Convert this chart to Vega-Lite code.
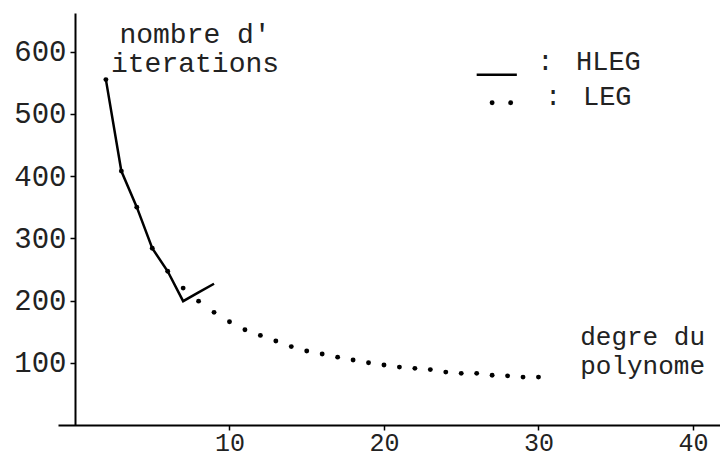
{
  "$schema": "https://vega.github.io/schema/vega-lite/v6.json",
  "width": 662,
  "height": 412,
  "autosize": {"type": "none"},
  "padding": {"left": 58, "top": 13, "right": 0, "bottom": 32},
  "background": "white",
  "config": {"view": {"stroke": null}, "font": "Liberation Mono"},
  "datasets": {
    "hleg": [
      {"degre": 2, "iterations": 555},
      {"degre": 3, "iterations": 408},
      {"degre": 4, "iterations": 350},
      {"degre": 5, "iterations": 284},
      {"degre": 6, "iterations": 247},
      {"degre": 7, "iterations": 199},
      {"degre": 8, "iterations": 213},
      {"degre": 9, "iterations": 227}
    ],
    "leg": [
      {"degre": 2, "iterations": 555},
      {"degre": 3, "iterations": 408},
      {"degre": 4, "iterations": 350},
      {"degre": 5, "iterations": 284},
      {"degre": 6, "iterations": 247},
      {"degre": 7, "iterations": 220},
      {"degre": 8, "iterations": 199},
      {"degre": 9, "iterations": 181},
      {"degre": 10, "iterations": 166},
      {"degre": 11, "iterations": 153},
      {"degre": 12, "iterations": 144},
      {"degre": 13, "iterations": 135},
      {"degre": 14, "iterations": 126},
      {"degre": 15, "iterations": 119},
      {"degre": 16, "iterations": 114},
      {"degre": 17, "iterations": 109},
      {"degre": 18, "iterations": 104.5},
      {"degre": 19, "iterations": 100},
      {"degre": 20, "iterations": 96.5},
      {"degre": 21, "iterations": 93},
      {"degre": 22, "iterations": 91},
      {"degre": 23, "iterations": 89},
      {"degre": 24, "iterations": 85},
      {"degre": 25, "iterations": 83},
      {"degre": 26, "iterations": 83},
      {"degre": 27, "iterations": 80},
      {"degre": 28, "iterations": 79},
      {"degre": 29, "iterations": 77},
      {"degre": 30, "iterations": 77}
    ],
    "key": [
      {"degre": 26.0, "iterations": 562.7, "kind": "line"},
      {"degre": 28.6, "iterations": 562.7, "kind": "line"},
      {"degre": 27.0, "iterations": 517.7, "kind": "dot"},
      {"degre": 28.2, "iterations": 517.7, "kind": "dot"}
    ],
    "notes": [
      {"text": "nombre d'\niterations", "degre": 7.77, "iterations": 614, "group": "title"},
      {"text": ":", "degre": 29.92, "iterations": 570.7, "group": "legend"},
      {"text": ":", "degre": 30.43, "iterations": 514.5, "group": "legend"},
      {"text": "HLEG", "degre": 32.43, "iterations": 570.7, "group": "legend"},
      {"text": "LEG", "degre": 32.88, "iterations": 514.5, "group": "legend"},
      {"text": "degre du\npolynome", "degre": 40.78, "iterations": 128, "group": "xlabel"}
    ]
  },
  "encoding": {
    "x": {
      "field": "degre", "type": "quantitative",
      "scale": {"domain": [-1.1, 41.75], "nice": false, "zero": false},
      "axis": {
        "values": [10, 20, 30, 40], "title": null, "grid": false,
        "domainColor": "black", "domainWidth": 2,
        "tickColor": "black", "tickWidth": 1.5, "tickSize": 5,
        "labelFont": "Liberation Mono", "labelFontSize": 25, "labelColor": "#222",
        "labelPadding": 0, "labelFlush": false
      }
    },
    "y": {
      "field": "iterations", "type": "quantitative",
      "scale": {"domain": [0, 662], "nice": false, "zero": false},
      "axis": {
        "values": [100, 200, 300, 400, 500, 600], "title": null, "grid": false,
        "offset": -17,
        "domainColor": "black", "domainWidth": 2,
        "tickColor": "black", "tickWidth": 1.5, "tickSize": 5,
        "labelFont": "Liberation Mono", "labelFontSize": 29, "labelColor": "#222",
        "labelPadding": 4
      }
    }
  },
  "layer": [
    {
      "data": {"name": "hleg"},
      "mark": {"type": "line", "color": "black", "strokeWidth": 2.5}
    },
    {
      "data": {"name": "leg"},
      "mark": {"type": "circle", "color": "black", "size": 24, "opacity": 1}
    },
    {
      "data": {"name": "key"},
      "transform": [{"filter": "datum.kind === 'line'"}],
      "mark": {"type": "line", "color": "black", "strokeWidth": 2.5}
    },
    {
      "data": {"name": "key"},
      "transform": [{"filter": "datum.kind === 'dot'"}],
      "mark": {"type": "circle", "color": "black", "size": 24, "opacity": 1}
    },
    {
      "data": {"name": "notes"},
      "transform": [{"filter": "datum.group === 'title'"}],
      "mark": {"type": "text", "align": "center", "baseline": "alphabetic", "lineBreak": "\n", "lineHeight": 29, "font": "Liberation Mono", "fontSize": 28, "color": "#222"},
      "encoding": {"text": {"field": "text"}}
    },
    {
      "data": {"name": "notes"},
      "transform": [{"filter": "datum.group === 'legend'"}],
      "mark": {"type": "text", "align": "left", "baseline": "alphabetic", "font": "Liberation Mono", "fontSize": 27, "color": "#222"},
      "encoding": {"text": {"field": "text"}}
    },
    {
      "data": {"name": "notes"},
      "transform": [{"filter": "datum.group === 'xlabel'"}],
      "mark": {"type": "text", "align": "right", "baseline": "alphabetic", "lineBreak": "\n", "lineHeight": 29, "font": "Liberation Mono", "fontSize": 26, "color": "#222"},
      "encoding": {"text": {"field": "text"}}
    }
  ]
}
